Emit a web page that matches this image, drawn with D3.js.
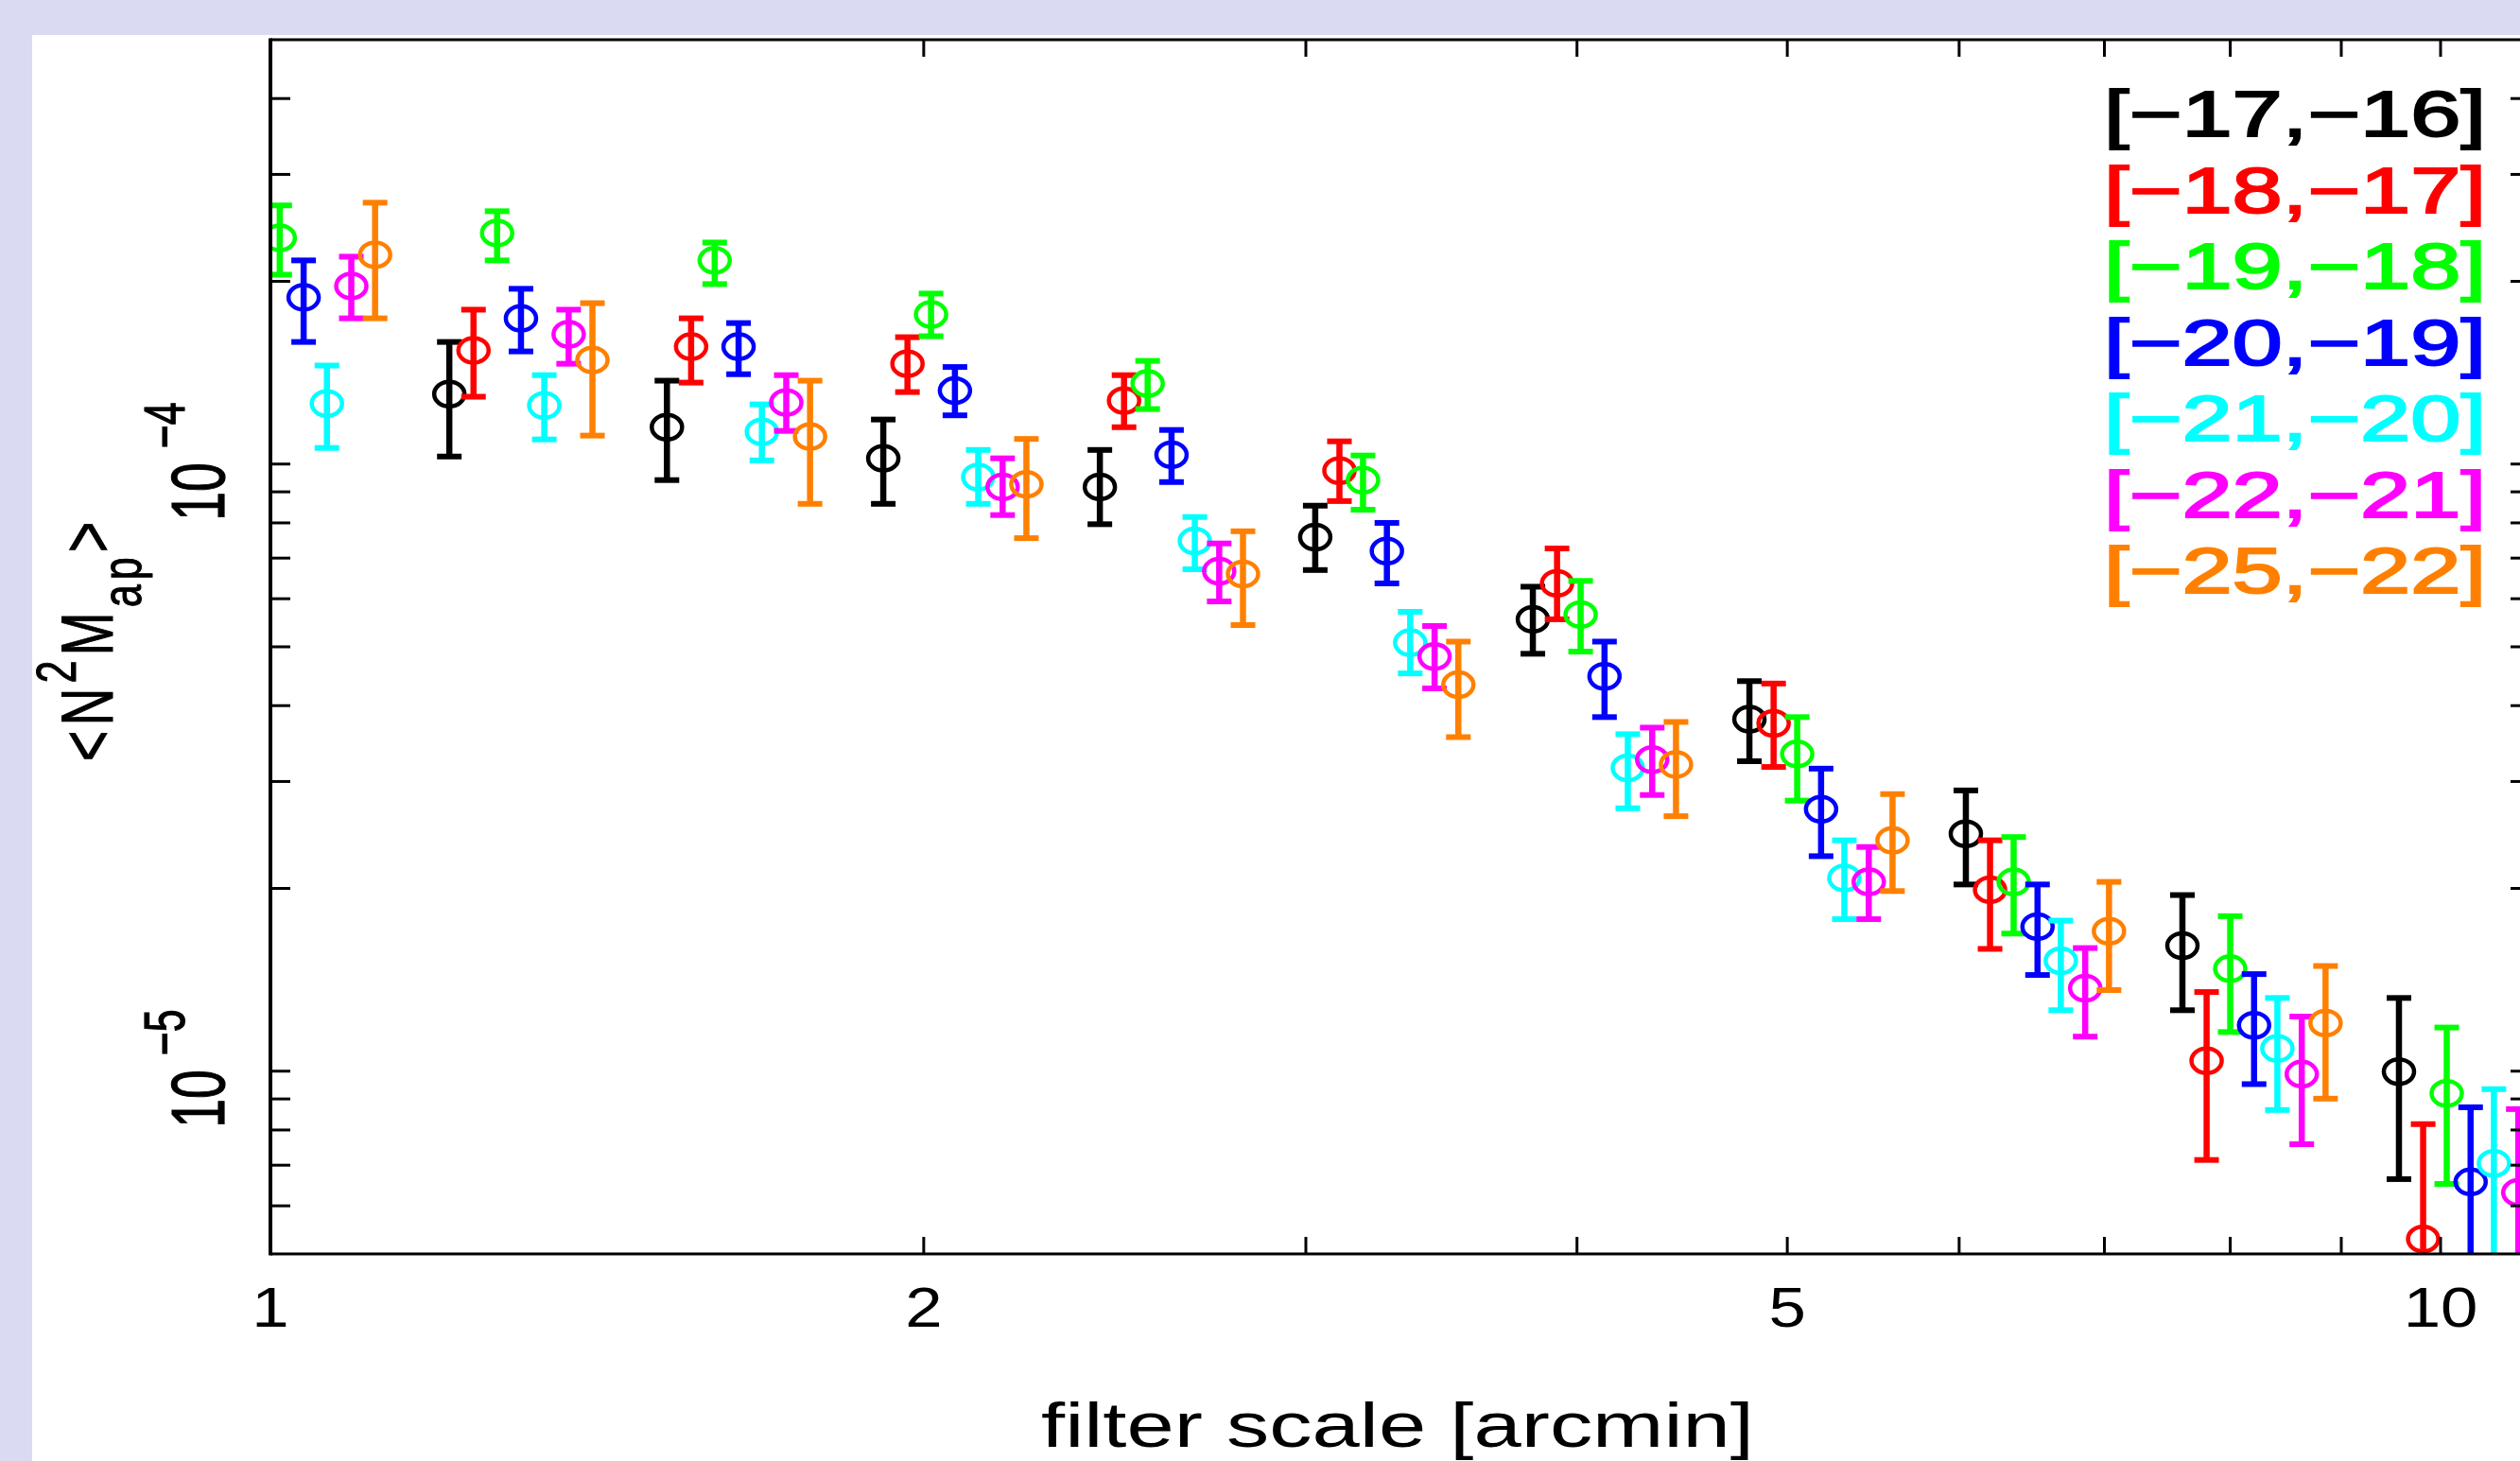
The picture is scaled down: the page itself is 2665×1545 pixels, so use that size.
<!DOCTYPE html>
<html>
<head>
<meta charset="utf-8">
<script src="https://cdn.jsdelivr.net/npm/d3@7"></script>
<style>
  html, body { margin: 0; padding: 0; background: #dadaf2; }
  svg { display: block; }
</style>
</head>
<body>
<svg id="chart"></svg>
<script>
// magnitude bins (legend), in drawing order
const bins = ["[\u221217,\u221216]", "[\u221218,\u221217]", "[\u221219,\u221218]", "[\u221220,\u221219]",
              "[\u221221,\u221220]", "[\u221222,\u221221]", "[\u221225,\u221222]"];
const colors = ["#000000", "#ff0000", "#00ff00", "#0000ff", "#00ffff", "#ff00ff", "#ff8000"];

// filter scale of each group (arcmin), position of the first bin
const scales = [0.960, 1.209, 1.523, 1.916, 2.411, 3.030, 3.817, 4.803, 6.043, 7.604, 9.568];
// small horizontal shift per bin so the points don't sit on top of each other
const dither = [1.000, 1.026, 1.052, 1.079, 1.106, 1.135, 1.164];

// <N^2 Map> in units of 1e-5, one row per bin (null = not drawn)
const nmap = [
  [null, 13.04, 11.50, 10.22, 9.17, 7.58, 5.55, 3.80, 2.46, 1.61, 0.998],
  [null, 15.39, 15.61, 14.63, 12.72, 9.75, 6.36, 3.74, 1.99, 1.04, 0.529],
  [23.59, 24.02, 21.65, 17.64, 13.57, 9.41, 5.65, 3.33, 2.05, 1.475, 0.919],
  [18.82, 17.38, 15.61, 13.21, 10.36, 7.19, 4.47, 2.70, 1.73, 1.19, 0.657],
  [12.58, 12.49, 11.30, 9.52, 7.47, 5.08, 3.16, 2.08, 1.52, 1.09, 0.705],
  [19.65, 16.36, 12.63, 9.17, 6.66, 4.82, 3.26, 2.05, 1.37, 0.989, 0.631],
  [22.12, 14.84, 11.10, 9.26, 6.59, 4.33, 3.20, 2.40, 1.70, 1.20, null]
];
// lower end of the error bars
const nmapLo = [
  [null, 10.29, 9.41, 8.60, 7.96, 6.69, 4.87, 3.24, 2.03, 1.26, 0.664],
  [null, 12.91, 13.62, 13.14, 11.50, 8.69, 5.55, 3.17, 1.59, 0.714, 0.30],
  [20.51, 21.65, 19.79, 16.24, 12.32, 8.41, 4.91, 2.79, 1.685, 1.16, 0.652],
  [15.89, 15.33, 14.06, 12.03, 9.34, 6.36, 3.83, 2.26, 1.44, 0.952, 0.40],
  [10.63, 10.98, 10.14, 8.60, 6.71, 4.52, 2.71, 1.78, 1.26, 0.863, 0.45],
  [17.38, 14.63, 11.34, 8.24, 5.94, 4.27, 2.85, 1.78, 1.14, 0.758, 0.40],
  [17.38, 11.14, 8.60, 7.55, 5.43, 3.55, 2.63, 1.98, 1.36, 0.901, null]
];
// upper end of the error bars
const nmapHi = [
  [null, 15.89, 13.72, 11.84, 10.55, 8.54, 6.28, 4.39, 2.90, 1.95, 1.32],
  [null, 17.96, 17.38, 16.18, 14.01, 10.90, 7.26, 4.35, 2.40, 1.35, 0.818],
  [26.67, 26.09, 23.17, 19.09, 14.79, 10.33, 6.42, 3.83, 2.43, 1.80, 1.18],
  [21.65, 19.44, 17.07, 14.45, 11.38, 8.00, 5.10, 3.15, 2.03, 1.445, 0.872],
  [14.53, 14.01, 12.54, 10.55, 8.18, 5.71, 3.59, 2.40, 1.77, 1.32, 0.934],
  [21.96, 17.96, 14.01, 10.22, 7.40, 5.41, 3.68, 2.34, 1.595, 1.23, 0.866],
  [26.95, 18.41, 13.72, 11.00, 7.75, 5.10, 3.76, 2.86, 2.05, 1.49, null]
];
const unit = 1e-5;

const xTickLabels = [1, 2, 5, 10];
const yTickLabels = [[1e-4, "4"], [1e-5, "5"]];

const W = 2665, H = 1545;
const pL = 286, pR = 2676, pT = 42, pB = 1326;
const font = "'Liberation Sans', Arial, sans-serif";

const x = d3.scaleLog().domain([1, 11]).range([pL, pR]);
const y = d3.scaleLog().domain([5e-6, 5e-4]).range([pB, pT]);

const svg = d3.select("#chart").attr("width", W).attr("height", H);

svg.append("rect").attr("width", W).attr("height", H).attr("fill", "#dadaf2");
svg.append("rect").attr("x", 34).attr("y", 37).attr("width", W - 34).attr("height", H - 37).attr("fill", "#fff");

svg.append("clipPath").attr("id", "plot-clip")
  .append("rect").attr("x", pL).attr("y", pT)
  .attr("width", pR - pL).attr("height", pB - pT);

// data points with error bars
const marks = svg.append("g").attr("clip-path", "url(#plot-clip)");
bins.forEach((b, s) => {
  const pts = scales.map((sc, g) => ({
    x: sc * dither[s], v: nmap[s][g], lo: nmapLo[s][g], hi: nmapHi[s][g]
  })).filter(d => d.v !== null);

  const gs = marks.append("g").attr("stroke", colors[s]).attr("fill", "none");
  const pt = gs.selectAll("g").data(pts).join("g");

  pt.append("line")
    .attr("x1", d => x(d.x)).attr("x2", d => x(d.x))
    .attr("y1", d => y(d.hi * unit)).attr("y2", d => y(d.lo * unit))
    .attr("stroke-width", 6.5);
  pt.append("line")
    .attr("x1", d => x(d.x) - 13).attr("x2", d => x(d.x) + 13)
    .attr("y1", d => y(d.hi * unit)).attr("y2", d => y(d.hi * unit))
    .attr("stroke-width", 6);
  pt.append("line")
    .attr("x1", d => x(d.x) - 13).attr("x2", d => x(d.x) + 13)
    .attr("y1", d => y(d.lo * unit)).attr("y2", d => y(d.lo * unit))
    .attr("stroke-width", 6);
  pt.append("ellipse")
    .attr("cx", d => x(d.x)).attr("cy", d => y(d.v * unit))
    .attr("rx", 16).attr("ry", 13)
    .attr("stroke-width", 4.5);
});

// frame
const axes = svg.append("g").attr("stroke", "#000");
axes.append("line").attr("x1", pL).attr("x2", pL).attr("y1", pT - 1.5).attr("y2", pB + 1.5).attr("stroke-width", 4);
axes.append("line").attr("x1", pR).attr("x2", pR).attr("y1", pT).attr("y2", pB).attr("stroke-width", 4);
axes.append("line").attr("x1", pL).attr("x2", pR).attr("y1", pT).attr("y2", pT).attr("stroke-width", 3);
axes.append("line").attr("x1", pL).attr("x2", pR).attr("y1", pB).attr("y2", pB).attr("stroke-width", 3);

// ticks
const yt = y.ticks().filter(t => t > 5.01e-6 && t < 4.99e-4);
axes.selectAll(".ytl").data(yt).join("line").attr("class", "ytl")
  .attr("x1", pL).attr("x2", pL + 21).attr("y1", d => y(d)).attr("y2", d => y(d)).attr("stroke-width", 3);
axes.selectAll(".ytr").data(yt).join("line").attr("class", "ytr")
  .attr("x1", pR).attr("x2", pR - 21).attr("y1", d => y(d)).attr("y2", d => y(d)).attr("stroke-width", 3);

const xt = x.ticks().filter(t => t > 1.001);
axes.selectAll(".xtb").data(xt).join("line").attr("class", "xtb")
  .attr("x1", d => x(d)).attr("x2", d => x(d)).attr("y1", pB).attr("y2", pB - 18).attr("stroke-width", 3);
axes.selectAll(".xtt").data(xt).join("line").attr("class", "xtt")
  .attr("x1", d => x(d)).attr("x2", d => x(d)).attr("y1", pT).attr("y2", pT + 18).attr("stroke-width", 3);

// x tick labels
svg.selectAll(".xlab").data(xTickLabels).join("text").attr("class", "xlab")
  .attr("transform", d => `translate(${x(d)},1403) scale(1.18,1)`)
  .attr("text-anchor", "middle")
  .attr("font-family", font).attr("font-size", 60).attr("fill", "#000")
  .text(d => d);

// y tick labels (rotated powers of ten)
yTickLabels.forEach(([v, e]) => {
  const t = svg.append("text")
    .attr("transform", `translate(237,${y(v) + 60}) rotate(-90) scale(0.69,1)`)
    .attr("font-family", font).attr("font-size", 80).attr("fill", "#000")
    .attr("stroke", "#000").attr("stroke-width", 1.2);
  t.append("tspan").text("10");
  t.append("tspan").attr("font-size", 62).attr("dy", -42).attr("dx", 22).text("\u2212" + e);
});

// y axis title
const ytitle = svg.append("text")
  .attr("transform", "translate(119,805) rotate(-90) scale(0.72,1)")
  .attr("font-family", font).attr("font-size", 77).attr("fill", "#000")
  .attr("stroke", "#000").attr("stroke-width", 1)
  .attr("letter-spacing", 7);
ytitle.append("tspan").text("<N");
ytitle.append("tspan").attr("font-size", 60).attr("dy", -39).text("2");
ytitle.append("tspan").attr("dy", 39).text("M");
ytitle.append("tspan").attr("font-size", 60).attr("dy", 30).text("ap");
ytitle.append("tspan").attr("dy", -30).text(">");

// x axis title
svg.append("text")
  .attr("x", 1478).attr("y", 1530)
  .attr("text-anchor", "middle")
  .attr("font-family", font).attr("font-size", 66).attr("fill", "#000")
  .attr("textLength", 754).attr("lengthAdjust", "spacingAndGlyphs")
  .text("filter scale [arcmin]");

// legend
svg.selectAll(".leg").data(bins).join("text").attr("class", "leg")
  .attr("x", 2225).attr("y", (d, i) => 144 + 80.5 * i)
  .attr("font-family", font).attr("font-size", 68.5)
  .attr("fill", (d, i) => colors[i])
  .attr("stroke", (d, i) => colors[i]).attr("stroke-width", 2)
  .attr("textLength", 404).attr("lengthAdjust", "spacingAndGlyphs")
  .text(d => d);
</script>
</body>
</html>
